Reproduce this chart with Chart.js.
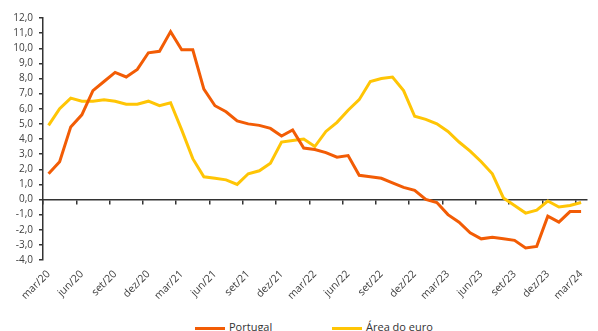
<!DOCTYPE html>
<html lang="pt">
<head>
<meta charset="utf-8">
<title>Inflação: Portugal e área do euro</title>
<script src="https://cdn.jsdelivr.net/npm/chart.js@4.4.1/dist/chart.umd.min.js"></script>
<style>
    html, body { margin: 0; padding: 0; background: #fff; overflow: hidden; }
    #wrap { position: relative; width: 598px; height: 331px; }
    #box { position: absolute; left: 0; top: 0; width: 598px; height: 310px; }
    .legend { position: absolute; top: 319px; font: 11px 'Open Sans', sans-serif; color: #333; white-space: nowrap; }
    .legend i { display: inline-block; width: 30px; height: 3px; vertical-align: middle; margin-right: 4px; }
</style>
</head>
<body>
<div id="wrap">
    <div id="box"><canvas id="inflChart"></canvas></div>
    <div class="legend" id="leg0" style="left:195px"></div>
    <div class="legend" id="leg1" style="left:332px"></div>
</div>
<script>
// Monthly labels, mar/20 to mar/24
const meses = ['jan', 'fev', 'mar', 'abr', 'mai', 'jun', 'jul', 'ago', 'set', 'out', 'nov', 'dez'];
const labels = [];
for (let a = 2020; a <= 2024; a++) {
    for (let m = 0; m < 12; m++) {
        if (a === 2020 && m < 2) continue;
        if (a === 2024 && m > 2) break;
        labels.push(meses[m] + '/' + String(a).slice(2));
    }
}

const portugal = [1.7, 2.5, 4.8, 5.6, 7.2, 7.8, 8.4, 8.1, 8.6, 9.7, 9.8, 11.1,
    9.9, 9.9, 7.3, 6.2, 5.8, 5.2, 5.0, 4.9, 4.7, 4.2, 4.6, 3.4,
    3.3, 3.1, 2.8, 2.9, 1.6, 1.5, 1.4, 1.1, 0.8, 0.6, 0.0, -0.2,
    -1.0, -1.5, -2.2, -2.6, -2.5, -2.6, -2.7, -3.2, -3.1, -1.1, -1.5, -0.8,
    -0.8];

const areaEuro = [4.9, 6.0, 6.7, 6.5, 6.5, 6.6, 6.5, 6.3, 6.3, 6.5, 6.2, 6.4,
    4.6, 2.7, 1.5, 1.4, 1.3, 1.0, 1.7, 1.9, 2.4, 3.8, 3.9, 4.0,
    3.5, 4.5, 5.1, 5.9, 6.6, 7.8, 8.0, 8.1, 7.2, 5.5, 5.3, 5.0,
    4.5, 3.8, 3.2, 2.5, 1.7, 0.1, -0.4, -0.9, -0.7, -0.1, -0.5, -0.4,
    -0.2];

const seriesNames = ['Portugal', 'Área do euro'];
const seriesColors = ['#F25C05', '#FFC505'];

const axisColor = '#333333';
const textColor = '#404040';
const fontFamily = "'Open Sans', sans-serif";

const ctx = document.getElementById('inflChart').getContext('2d');
const inflChart = new Chart(ctx, {
    type: 'line',
    data: {
        labels: labels,
        datasets: [
            {
                label: seriesNames[0],
                data: portugal,
                borderColor: seriesColors[0],
                borderWidth: 3,
                pointRadius: 0,
                tension: 0,
                xAxisID: 'x'
            },
            {
                label: seriesNames[1],
                data: areaEuro,
                borderColor: seriesColors[1],
                borderWidth: 3,
                pointRadius: 0,
                tension: 0,
                xAxisID: 'x'
            }
        ]
    },
    options: {
        responsive: true,
        maintainAspectRatio: false,
        animation: false,
        layout: { padding: { top: 18, right: 0, bottom: 0, left: 0 } },
        plugins: {
            legend: { display: false },
            tooltip: { enabled: false }
        },
        scales: {
            // labels along the bottom
            x: {
                type: 'category',
                position: 'bottom',
                offset: true,
                grid: { display: false, drawTicks: false },
                border: { display: false },
                ticks: {
                    autoSkip: false,
                    minRotation: 45,
                    maxRotation: 45,
                    padding: 8,
                    color: textColor,
                    font: { family: fontFamily, size: 10.5 },
                    callback: (v, i) => (i % 3 === 0 ? labels[i] : '')
                },
                afterFit: (s) => { s.height = 50; }
            },
            // axis line through zero with quarterly tick marks
            x0: {
                type: 'category',
                position: { y: 0 },
                offset: true,
                grid: {
                    offset: true,
                    drawOnChartArea: false,
                    drawTicks: true,
                    tickLength: 4,
                    lineWidth: 1.5,
                    color: (c) => (c.index !== undefined && c.index % 3 === 0 && c.index < labels.length ? axisColor : 'rgba(0,0,0,0)')
                },
                border: { display: true, color: axisColor, width: 1.5 },
                ticks: { display: false, autoSkip: false }
            },
            y: {
                min: -4,
                max: 12,
                grid: {
                    drawOnChartArea: false,
                    drawTicks: true,
                    tickLength: 4,
                    color: axisColor,
                    lineWidth: 1.5
                },
                border: { display: true, color: axisColor, width: 1.5 },
                ticks: {
                    stepSize: 1,
                    padding: 6,
                    color: textColor,
                    font: { family: fontFamily, size: 10 },
                    callback: (v) => v.toFixed(1).replace('.', ',')
                },
                afterFit: (s) => { s.width = 43; }
            }
        }
    }
});

// Legend under the chart
inflChart.data.datasets.forEach((ds, i) => {
    const el = document.getElementById('leg' + i);
    const sw = document.createElement('i');
    sw.style.background = ds.borderColor;
    el.appendChild(sw);
    el.appendChild(document.createTextNode(ds.label));
});
</script>
</body>
</html>
